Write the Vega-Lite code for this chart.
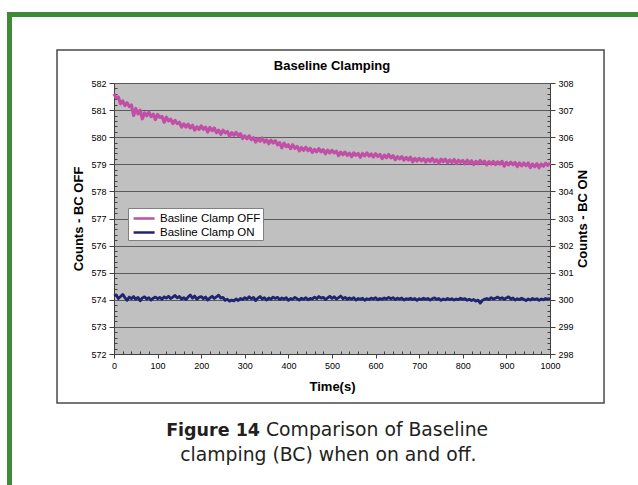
{
  "$schema": "https://vega.github.io/schema/vega-lite/v6.json",
  "width": 436,
  "height": 271,
  "autosize": {"type": "none"},
  "padding": {"left": 114, "top": 83, "right": 88, "bottom": 131},
  "background": "white",
  "datasets": {
    "off": [
      {"t":0,"v":581.60},{"t":5,"v":581.45},{"t":10,"v":581.48},{"t":15,"v":581.23},{"t":20,"v":581.34},{"t":25,"v":581.17},{"t":30,"v":581.27},{"t":35,"v":581.13},{"t":40,"v":581.19},{"t":45,"v":580.80},
      {"t":50,"v":581.06},{"t":55,"v":580.86},{"t":60,"v":581.00},{"t":65,"v":580.68},{"t":70,"v":580.90},{"t":75,"v":580.79},{"t":80,"v":580.92},{"t":85,"v":580.76},{"t":90,"v":580.85},{"t":95,"v":580.65},
      {"t":100,"v":580.84},{"t":105,"v":580.73},{"t":110,"v":580.77},{"t":115,"v":580.55},{"t":120,"v":580.74},{"t":125,"v":580.60},{"t":130,"v":580.66},{"t":135,"v":580.50},{"t":140,"v":580.62},{"t":145,"v":580.50},
      {"t":150,"v":580.55},{"t":155,"v":580.37},{"t":160,"v":580.49},{"t":165,"v":580.37},{"t":170,"v":580.48},{"t":175,"v":580.34},{"t":180,"v":580.44},{"t":185,"v":580.26},{"t":190,"v":580.38},{"t":195,"v":580.29},
      {"t":200,"v":580.42},{"t":205,"v":580.29},{"t":210,"v":580.37},{"t":215,"v":580.19},{"t":220,"v":580.36},{"t":225,"v":580.24},{"t":230,"v":580.34},{"t":235,"v":580.17},{"t":240,"v":580.26},{"t":245,"v":580.11},
      {"t":250,"v":580.26},{"t":255,"v":580.16},{"t":260,"v":580.21},{"t":265,"v":580.04},{"t":270,"v":580.17},{"t":275,"v":580.07},{"t":280,"v":580.18},{"t":285,"v":580.06},{"t":290,"v":580.13},{"t":295,"v":579.95},
      {"t":300,"v":580.05},{"t":305,"v":579.94},{"t":310,"v":580.05},{"t":315,"v":579.91},{"t":320,"v":579.98},{"t":325,"v":579.82},{"t":330,"v":579.95},{"t":335,"v":579.85},{"t":340,"v":579.97},{"t":345,"v":579.82},
      {"t":350,"v":579.90},{"t":355,"v":579.76},{"t":360,"v":579.89},{"t":365,"v":579.79},{"t":370,"v":579.87},{"t":375,"v":579.72},{"t":380,"v":579.80},{"t":385,"v":579.61},{"t":390,"v":579.78},{"t":395,"v":579.65},
      {"t":400,"v":579.72},{"t":405,"v":579.58},{"t":410,"v":579.72},{"t":415,"v":579.59},{"t":420,"v":579.66},{"t":425,"v":579.50},{"t":430,"v":579.62},{"t":435,"v":579.52},{"t":440,"v":579.63},{"t":445,"v":579.50},
      {"t":450,"v":579.59},{"t":455,"v":579.44},{"t":460,"v":579.55},{"t":465,"v":579.46},{"t":470,"v":579.58},{"t":475,"v":579.46},{"t":480,"v":579.54},{"t":485,"v":579.39},{"t":490,"v":579.52},{"t":495,"v":579.42},
      {"t":500,"v":579.52},{"t":505,"v":579.42},{"t":510,"v":579.48},{"t":515,"v":579.32},{"t":520,"v":579.45},{"t":525,"v":579.35},{"t":530,"v":579.45},{"t":535,"v":579.33},{"t":540,"v":579.41},{"t":545,"v":579.28},
      {"t":550,"v":579.42},{"t":555,"v":579.33},{"t":560,"v":579.40},{"t":565,"v":579.26},{"t":570,"v":579.40},{"t":575,"v":579.31},{"t":580,"v":579.42},{"t":585,"v":579.30},{"t":590,"v":579.38},{"t":595,"v":579.27},
      {"t":600,"v":579.39},{"t":605,"v":579.29},{"t":610,"v":579.36},{"t":615,"v":579.21},{"t":620,"v":579.34},{"t":625,"v":579.24},{"t":630,"v":579.36},{"t":635,"v":579.24},{"t":640,"v":579.32},{"t":645,"v":579.17},
      {"t":650,"v":579.28},{"t":655,"v":579.20},{"t":660,"v":579.28},{"t":665,"v":579.15},{"t":670,"v":579.25},{"t":675,"v":579.16},{"t":680,"v":579.26},{"t":685,"v":579.09},{"t":690,"v":579.22},{"t":695,"v":579.12},
      {"t":700,"v":579.22},{"t":705,"v":579.13},{"t":710,"v":579.21},{"t":715,"v":579.08},{"t":720,"v":579.19},{"t":725,"v":579.11},{"t":730,"v":579.22},{"t":735,"v":579.09},{"t":740,"v":579.17},{"t":745,"v":579.04},
      {"t":750,"v":579.19},{"t":755,"v":579.10},{"t":760,"v":579.19},{"t":765,"v":579.06},{"t":770,"v":579.16},{"t":775,"v":579.07},{"t":780,"v":579.18},{"t":785,"v":579.03},{"t":790,"v":579.15},{"t":795,"v":579.07},
      {"t":800,"v":579.14},{"t":805,"v":579.02},{"t":810,"v":579.15},{"t":815,"v":579.04},{"t":820,"v":579.13},{"t":825,"v":578.99},{"t":830,"v":579.11},{"t":835,"v":579.02},{"t":840,"v":579.14},{"t":845,"v":579.04},
      {"t":850,"v":579.11},{"t":855,"v":578.98},{"t":860,"v":579.10},{"t":865,"v":579.01},{"t":870,"v":579.11},{"t":875,"v":578.99},{"t":880,"v":579.09},{"t":885,"v":579.01},{"t":890,"v":579.11},{"t":895,"v":578.93},
      {"t":900,"v":579.07},{"t":905,"v":578.98},{"t":910,"v":579.08},{"t":915,"v":578.98},{"t":920,"v":579.07},{"t":925,"v":578.92},{"t":930,"v":579.05},{"t":935,"v":578.94},{"t":940,"v":579.05},{"t":945,"v":578.95},
      {"t":950,"v":579.05},{"t":955,"v":578.88},{"t":960,"v":579.01},{"t":965,"v":578.91},{"t":970,"v":579.02},{"t":975,"v":578.87},{"t":980,"v":579.01},{"t":985,"v":578.93},{"t":990,"v":579.04},{"t":995,"v":578.96},
      {"t":1000,"v":579.05}
    ],
    "on": [
      {"t":0,"v":300.15},{"t":5,"v":300.18},{"t":10,"v":300.05},{"t":15,"v":300.12},{"t":20,"v":300.20},{"t":25,"v":300.08},{"t":30,"v":299.98},{"t":35,"v":300.10},{"t":40,"v":300.04},{"t":45,"v":300.12},
      {"t":50,"v":300.02},{"t":55,"v":300.09},{"t":60,"v":299.96},{"t":65,"v":300.07},{"t":70,"v":300.11},{"t":75,"v":300.03},{"t":80,"v":300.08},{"t":85,"v":299.99},{"t":90,"v":300.06},{"t":95,"v":300.10},
      {"t":100,"v":300.04},{"t":105,"v":300.09},{"t":110,"v":300.02},{"t":115,"v":300.11},{"t":120,"v":300.06},{"t":125,"v":300.13},{"t":130,"v":300.05},{"t":135,"v":300.10},{"t":140,"v":300.16},{"t":145,"v":300.07},
      {"t":150,"v":300.12},{"t":155,"v":300.03},{"t":160,"v":300.08},{"t":165,"v":300.01},{"t":170,"v":300.10},{"t":175,"v":300.18},{"t":180,"v":300.06},{"t":185,"v":300.14},{"t":190,"v":300.02},{"t":195,"v":300.09},
      {"t":200,"v":300.12},{"t":205,"v":300.04},{"t":210,"v":300.10},{"t":215,"v":299.99},{"t":220,"v":300.07},{"t":225,"v":300.13},{"t":230,"v":300.05},{"t":235,"v":300.11},{"t":240,"v":300.17},{"t":245,"v":300.06},
      {"t":250,"v":300.09},{"t":255,"v":299.98},{"t":260,"v":300.02},{"t":265,"v":299.95},{"t":270,"v":299.99},{"t":275,"v":299.96},{"t":280,"v":300.03},{"t":285,"v":299.97},{"t":290,"v":300.05},{"t":295,"v":300.01},
      {"t":300,"v":300.08},{"t":305,"v":300.03},{"t":310,"v":300.11},{"t":315,"v":300.04},{"t":320,"v":300.09},{"t":325,"v":299.97},{"t":330,"v":300.06},{"t":335,"v":300.12},{"t":340,"v":300.03},{"t":345,"v":300.08},
      {"t":350,"v":299.99},{"t":355,"v":300.07},{"t":360,"v":300.02},{"t":365,"v":300.10},{"t":370,"v":300.05},{"t":375,"v":300.09},{"t":380,"v":300.01},{"t":385,"v":300.07},{"t":390,"v":300.03},{"t":395,"v":300.08},
      {"t":400,"v":299.98},{"t":405,"v":300.05},{"t":410,"v":300.02},{"t":415,"v":300.09},{"t":420,"v":300.04},{"t":425,"v":299.99},{"t":430,"v":300.06},{"t":435,"v":300.02},{"t":440,"v":300.08},{"t":445,"v":300.00},
      {"t":450,"v":300.05},{"t":455,"v":300.03},{"t":460,"v":300.10},{"t":465,"v":300.04},{"t":470,"v":300.12},{"t":475,"v":300.06},{"t":480,"v":300.09},{"t":485,"v":300.01},{"t":490,"v":300.07},{"t":495,"v":300.13},
      {"t":500,"v":300.05},{"t":505,"v":300.11},{"t":510,"v":300.03},{"t":515,"v":300.08},{"t":520,"v":300.14},{"t":525,"v":300.04},{"t":530,"v":300.09},{"t":535,"v":300.02},{"t":540,"v":300.07},{"t":545,"v":300.03},
      {"t":550,"v":300.08},{"t":555,"v":299.99},{"t":560,"v":300.05},{"t":565,"v":300.02},{"t":570,"v":300.06},{"t":575,"v":299.98},{"t":580,"v":300.04},{"t":585,"v":300.01},{"t":590,"v":300.06},{"t":595,"v":300.03},
      {"t":600,"v":300.08},{"t":605,"v":300.00},{"t":610,"v":300.05},{"t":615,"v":300.02},{"t":620,"v":300.07},{"t":625,"v":300.03},{"t":630,"v":300.09},{"t":635,"v":300.04},{"t":640,"v":300.08},{"t":645,"v":300.01},
      {"t":650,"v":300.06},{"t":655,"v":300.03},{"t":660,"v":300.07},{"t":665,"v":299.99},{"t":670,"v":300.04},{"t":675,"v":300.02},{"t":680,"v":300.06},{"t":685,"v":300.01},{"t":690,"v":300.05},{"t":695,"v":299.98},
      {"t":700,"v":300.04},{"t":705,"v":300.01},{"t":710,"v":300.06},{"t":715,"v":300.02},{"t":720,"v":300.05},{"t":725,"v":299.99},{"t":730,"v":300.04},{"t":735,"v":300.07},{"t":740,"v":300.02},{"t":745,"v":300.05},
      {"t":750,"v":299.98},{"t":755,"v":300.03},{"t":760,"v":300.00},{"t":765,"v":300.05},{"t":770,"v":300.01},{"t":775,"v":300.04},{"t":780,"v":299.99},{"t":785,"v":300.03},{"t":790,"v":300.01},{"t":795,"v":300.06},
      {"t":800,"v":300.02},{"t":805,"v":300.04},{"t":810,"v":299.98},{"t":815,"v":300.02},{"t":820,"v":299.97},{"t":825,"v":300.01},{"t":830,"v":299.95},{"t":835,"v":299.99},{"t":840,"v":299.88},{"t":845,"v":299.98},
      {"t":850,"v":300.02},{"t":855,"v":300.05},{"t":860,"v":300.01},{"t":865,"v":300.08},{"t":870,"v":300.03},{"t":875,"v":300.06},{"t":880,"v":300.10},{"t":885,"v":300.04},{"t":890,"v":300.08},{"t":895,"v":300.02},
      {"t":900,"v":300.07},{"t":905,"v":300.11},{"t":910,"v":300.03},{"t":915,"v":300.07},{"t":920,"v":299.99},{"t":925,"v":300.04},{"t":930,"v":300.01},{"t":935,"v":300.06},{"t":940,"v":300.02},{"t":945,"v":299.97},
      {"t":950,"v":300.03},{"t":955,"v":299.99},{"t":960,"v":300.05},{"t":965,"v":300.01},{"t":970,"v":300.04},{"t":975,"v":299.98},{"t":980,"v":300.03},{"t":985,"v":300.00},{"t":990,"v":300.05},{"t":995,"v":300.02},
      {"t":1000,"v":300.06}
    ]
  },
  "layer": [
    {
      "layer": [
        {
          "data": {"values": [{}]},
          "mark": {"type": "rect", "fill": "transparent", "stroke": "#3E8A36", "strokeWidth": 5},
          "encoding": {
            "x": {"datum": -239.7, "type": "quantitative", "scale": {"domain": [0, 1000], "nice": false, "zero": false}},
            "x2": {"datum": 1250},
            "y": {"datum": 584.53, "type": "quantitative"},
            "y2": {"datum": 565}
          }
        },
        {
          "data": {"values": [{}]},
          "mark": {"type": "rect", "fill": "transparent", "stroke": "#4a4a4a", "strokeWidth": 1.5},
          "encoding": {
            "x": {"datum": -130.7, "type": "quantitative"},
            "x2": {"datum": 1123.9},
            "y": {"datum": 583.22, "type": "quantitative"},
            "y2": {"datum": 570.19}
          }
        },
        {
          "data": {"name": "off"},
          "mark": {"type": "line", "strokeWidth": 3.2, "strokeJoin": "round"},
          "encoding": {
            "x": {"field": "t", "type": "quantitative",
              "scale": {"domain": [0, 1000], "nice": false, "zero": false},
              "axis": {
                "title": "Time(s)",
                "values": [0,20,40,60,80,100,120,140,160,180,200,220,240,260,280,300,320,340,360,380,400,420,440,460,480,500,520,540,560,580,600,620,640,660,680,700,720,740,760,780,800,820,840,860,880,900,920,940,960,980,1000],
                "tickCount": 200,
                "labelOverlap": false,
                "labelExpr": "datum.value % 100 === 0 ? format(datum.value, 'd') : ''",
                "tickSize": {"condition": {"test": "datum.value % 100 === 0", "value": 4}, "value": -3},
                "grid": false,
                "titlePadding": 10
              }
            },
            "y": {"field": "v", "type": "quantitative",
              "scale": {"domain": [572, 582], "nice": false, "zero": false},
              "axis": {
                "orient": "left",
                "title": "Counts - BC OFF",
                "values": [572,572.2,572.4,572.6,572.8,573,573.2,573.4,573.6,573.8,574,574.2,574.4,574.6,574.8,575,575.2,575.4,575.6,575.8,576,576.2,576.4,576.6,576.8,577,577.2,577.4,577.6,577.8,578,578.2,578.4,578.6,578.8,579,579.2,579.4,579.6,579.8,580,580.2,580.4,580.6,580.8,581,581.2,581.4,581.6,581.8,582],
                "tickCount": 200,
                "labelOverlap": false,
                "labelExpr": "datum.value % 1 === 0 ? format(datum.value, 'd') : ''",
                "tickSize": {"condition": {"test": "datum.value % 1 === 0", "value": 5}, "value": -3},
                "grid": true,
                "gridOpacity": {"condition": {"test": "datum.value % 1 === 0", "value": 1}, "value": 0},
                "titlePadding": 5
              }
            },
            "color": {"datum": "Basline Clamp OFF", "type": "nominal",
              "scale": {"domain": ["Basline Clamp OFF", "Basline Clamp ON"], "range": ["#C24FA6", "#1F2472"]},
              "legend": {
                "orient": "none", "legendX": 14, "legendY": 125, "title": null,
                "fillColor": "white", "strokeColor": "#808080", "padding": 2, "cornerRadius": 0,
                "symbolType": "M-0.7,0L2.3,0", "symbolSize": 196, "symbolStrokeWidth": 2.5,
                "labelFont": "Liberation Sans", "labelFontSize": 11.5, "labelColor": "black", "labelOffset": 13, "rowPadding": 0
              }
            }
          }
        },
        {
          "data": {"values": [{}]},
          "mark": {"type": "text", "text": "Baseline Clamping", "font": "Liberation Sans", "fontSize": 13, "fontWeight": "bold", "align": "center", "baseline": "alphabetic", "color": "black"},
          "encoding": {
            "x": {"datum": 500, "type": "quantitative"},
            "y": {"datum": 582.48, "type": "quantitative"}
          }
        },
        {
          "data": {"values": [{}]},
          "mark": {"type": "text", "text": "Figure 14", "font": "DejaVu Sans", "fontSize": 17.5, "fontWeight": "bold", "align": "right", "baseline": "alphabetic", "color": "#231F20"},
          "encoding": {
            "x": {"datum": 334.9, "type": "quantitative"},
            "y": {"datum": 568.97, "type": "quantitative"}
          }
        },
        {
          "data": {"values": [{}]},
          "mark": {"type": "text", "text": "Comparison of Baseline", "font": "DejaVu Sans", "fontSize": 18.8, "align": "left", "baseline": "alphabetic", "color": "#231F20"},
          "encoding": {
            "x": {"datum": 348.6, "type": "quantitative"},
            "y": {"datum": 568.97, "type": "quantitative"}
          }
        },
        {
          "data": {"values": [{}]},
          "mark": {"type": "text", "text": "clamping (BC) when on and off.", "font": "DejaVu Sans", "fontSize": 18.8, "align": "center", "baseline": "alphabetic", "color": "#231F20"},
          "encoding": {
            "x": {"datum": 491.7, "type": "quantitative"},
            "y": {"datum": 568.05, "type": "quantitative"}
          }
        }
      ]
    },
    {
      "data": {"name": "on"},
      "mark": {"type": "line", "strokeWidth": 2.8, "strokeJoin": "round"},
      "encoding": {
        "x": {"field": "t", "type": "quantitative"},
        "y": {"field": "v", "type": "quantitative",
          "scale": {"domain": [298, 308], "nice": false, "zero": false},
          "axis": {
            "orient": "right",
            "title": "Counts - BC ON",
            "titleAngle": 270,
            "titleBaseline": "top",
            "values": [298,298.2,298.4,298.6,298.8,299,299.2,299.4,299.6,299.8,300,300.2,300.4,300.6,300.8,301,301.2,301.4,301.6,301.8,302,302.2,302.4,302.6,302.8,303,303.2,303.4,303.6,303.8,304,304.2,304.4,304.6,304.8,305,305.2,305.4,305.6,305.8,306,306.2,306.4,306.6,306.8,307,307.2,307.4,307.6,307.8,308],
            "tickCount": 200,
            "labelOverlap": false,
            "labelExpr": "datum.value % 1 === 0 ? format(datum.value, 'd') : ''",
            "tickSize": {"condition": {"test": "datum.value % 1 === 0", "value": 5}, "value": -3},
            "grid": false,
            "titlePadding": 3
          }
        },
        "color": {"datum": "Basline Clamp ON", "type": "nominal"}
      }
    }
  ],
  "resolve": {"scale": {"y": "independent"}},
  "config": {
    "view": {"fill": "#C0C0C0", "stroke": "#404040", "strokeWidth": 1},
    "axis": {
      "labelFont": "Liberation Sans", "labelFontSize": 9, "labelColor": "black", "labelPadding": 3,
      "titleFont": "Liberation Sans", "titleFontSize": 13, "titleFontWeight": "bold", "titleColor": "black",
      "domainColor": "#404040", "tickColor": "#404040", "gridColor": "#5A5A5A", "gridWidth": 1, "labelFlush": false
    }
  }
}
